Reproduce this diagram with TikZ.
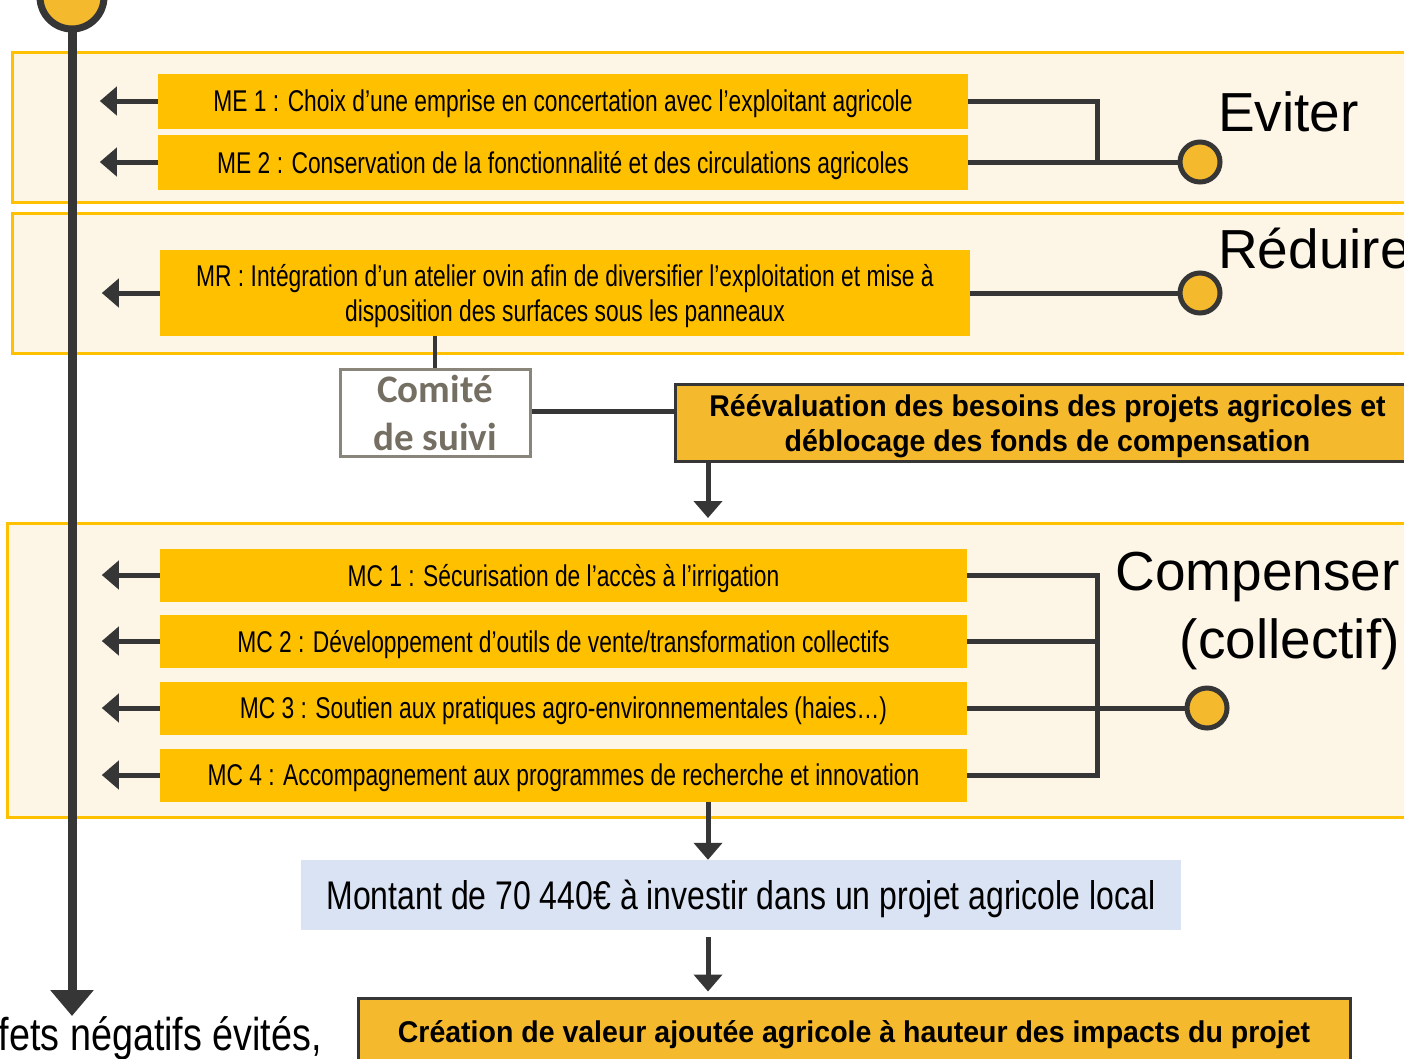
\documentclass[tikz,border=0pt]{standalone}
\usepackage{fontspec}
\setmainfont{Liberation Sans}
\newfontfamily\narrowfont[FakeStretch=0.76]{Liberation Sans}
\newfontfamily\montantfont[FakeStretch=0.8]{Liberation Sans}
\newfontfamily\boldnarrow[FakeStretch=0.95]{Liberation Sans}
\newfontfamily\semifont[FakeStretch=0.82]{Liberation Sans}
\newfontfamily\calibri{Carlito}
\usetikzlibrary{arrows.meta,calc}
\definecolor{bandfill}{HTML}{FDF6E7}
\definecolor{amber}{HTML}{FFC000}
\definecolor{orangebox}{HTML}{F5B92E}
\definecolor{darkline}{HTML}{363636}
\definecolor{paleblue}{HTML}{DAE3F3}
\definecolor{greytext}{HTML}{756F63}

\begin{document}
\begin{tikzpicture}[x=1pt, y=-1pt, >={Triangle[length=17pt,width=28pt]},
    band/.style={draw=amber, line width=3pt, fill=bandfill},
    mesure/.style={fill=amber, minimum width=810pt, minimum height=55pt, inner sep=0pt, text depth=0pt,
        align=center, font=\narrowfont\fontsize{30}{35}\selectfont},
    link/.style={draw=darkline, line width=5pt},
    pin/.style={circle, draw=darkline, line width=5pt, fill=orangebox, minimum size=40pt, inner sep=0pt},
    result/.style={fill=orangebox, draw=darkline, line width=3pt, inner sep=0pt, text depth=0pt, align=center,
        font=\boldnarrow\bfseries\fontsize{30}{35}\selectfont},
    stage/.style={font=\fontsize{55}{68}\selectfont, inner sep=0pt}]
    \useasboundingbox (0,0) rectangle (1404,1058);

    % bandes
    \draw[band] (12,52) rectangle (1430,202);
    \draw[band] (12,213) rectangle (1430,353);
    \draw[band] (7,523) rectangle (1430,817);

    % axe du temps
    \coordinate (fin) at (72,1016);
    \draw[darkline, line width=9pt, -{Triangle[length=26pt,width=42pt]}] (72,0) -- (fin);
    \node[pin, minimum size=64pt, line width=7pt] (debut) at (72,-3) {};

    % mesures
    \node[mesure] (me1) at (563,101) {ME 1 : Choix d’une emprise en concertation avec l’exploitant agricole};
    \node[mesure] (me2) at (563,162) {ME 2 : Conservation de la fonctionnalité et des circulations agricoles};
    \node[mesure, minimum height=86pt] (mr) at (565,293) {MR : Intégration d’un atelier ovin afin de diversifier l’exploitation et mise à\\disposition des surfaces sous les panneaux};
    \node[mesure, minimum width=807pt, minimum height=53pt] (mc1) at (563.5,575) {MC 1 : Sécurisation de l’accès à l’irrigation};
    \node[mesure, minimum width=807pt, minimum height=53pt] (mc2) at (563.5,641) {MC 2 : Développement d’outils de vente/transformation collectifs};
    \node[mesure, minimum width=807pt, minimum height=53pt] (mc3) at (563.5,708) {MC 3 : Soutien aux pratiques agro-environnementales (haies\dots)};
    \node[mesure, minimum width=807pt, minimum height=53pt] (mc4) at (563.5,775) {MC 4 : Accompagnement aux programmes de recherche et innovation};

    \foreach \m in {me1,me2,mr,mc1,mc2,mc3,mc4}
        \draw[link,->] (\m.west) -- ++(-58,0);

    % Eviter
    \node[pin] (pe) at (1200,162) {};
    \coordinate (je) at (1097,162);
    \draw[link] (me1.east) -| (je);
    \draw[link] (me2.east) -- (pe);
    \node[stage, anchor=west] (eviter) at (1218,112) {Eviter};

    % Reduire
    \node[pin] (pr) at (1200,293) {};
    \draw[link] (mr.east) -- (pr);
    \node[stage, anchor=west] (reduire) at (1218,249) {Réduire};

    % Compenser
    \node[pin] (pc) at (1207,708) {};
    \coordinate (jc) at (1097,708);
    \foreach \m in {mc1,mc2,mc4}
        \draw[link] (\m.east) -| (jc);
    \draw[link] (mc3.east) -- (pc);
    \node[stage, anchor=north east, align=right] (compenser) at (1400,552) {Compenser\\(collectif)};

    % comite de suivi
    \node[draw=greytext!85, line width=3pt, fill=white, minimum width=190pt, minimum height=87pt,
        inner sep=0pt, align=center, text=greytext, font=\calibri\bfseries\fontsize{39}{48}\selectfont]
        (comite) at (435,413) {Comité\\de suivi};
    \draw[link, line width=4pt] (comite.north |- mr.south) -- (comite.north);
    \node[result, minimum width=745pt, minimum height=77pt] (reeval) at (1047.5,422.5)
        {Réévaluation des besoins des projets agricoles et\\déblocage des fonds de compensation};
    \draw[link] (comite.east |- 0,411) -- (reeval.west |- 0,411);

    \coordinate (a1) at (708,518);
    \draw[link,->] (a1 |- reeval.south) -- (a1);

    % montant
    \node[fill=paleblue, minimum width=880pt, minimum height=70pt, inner sep=0pt, text depth=0pt,
        font=\montantfont\fontsize{40}{44}\selectfont] (montant) at (741,895)
        {Montant de 70 440€ à investir dans un projet agricole local};
    \draw[link,->] (mc4.south -| a1) -- (montant.north -| a1);

    \node[result, minimum width=992pt, minimum height=66pt] (creation) at (854,1031)
        {Création de valeur ajoutée agricole à hauteur des impacts du projet};
    \draw[link,->, shorten <=7pt, shorten >=5pt] (montant.south -| a1) -- (creation.north -| a1);

    \node[anchor=base east, inner sep=0pt, font=\semifont\fontsize{46}{50}\selectfont] (effets) at (322,1050) {fets négatifs évités,};
\end{tikzpicture}
\end{document}
